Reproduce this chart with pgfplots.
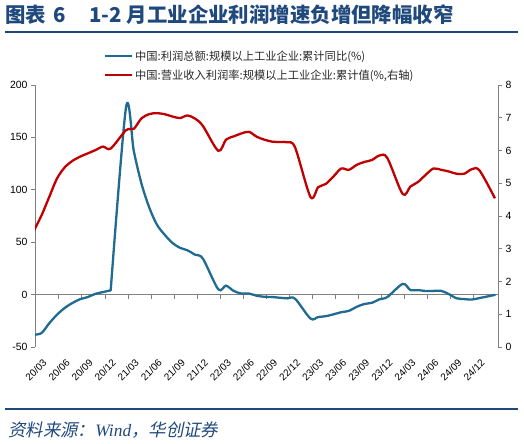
\documentclass[border=0pt]{standalone}
\usepackage{fontspec}
\usepackage{pgfplots}
\pgfplotsset{compat=1.18}
\setmainfont{Liberation Sans}
\newfontfamily\cjk{Noto Sans CJK SC}
\newfontfamily\cjksl{Noto Sans CJK SC}[FakeSlant=0.2]
\newfontfamily\seriffont{Liberation Serif}
\definecolor{ttl}{RGB}{31,73,125}
\definecolor{bl}{RGB}{31,107,145}
\definecolor{rd}{RGB}{192,0,0}
\definecolor{axc}{RGB}{128,128,128}

\pgfplotsset{
  base/.style={at={(35bp,97bp)}, anchor=south west, scale only axis,
    width=463bp, height=262bp, xmin=0.15, xmax=60.4,
    /pgf/number format/assume math mode=true,
    axis line style={axc, line width=1bp, -},
    tick style={axc, line width=0.8bp},
    major tick length=4bp, tick align=outside,
    hide obscured x ticks=false, hide obscured y ticks=false,
    ticklabel style={font=\fontsize{10.5}{12}\selectfont, text=black}},
}

\begin{document}
\begin{tikzpicture}[x=1bp,y=1bp]
\path[use as bounding box] (0,0) rectangle (524,444);
\node[anchor=west, text=ttl, font=\cjk\bfseries\fontsize{20.5}{22}\selectfont, inner sep=0pt] at (5,429) {图表\hspace{7bp}6\hspace{24bp}1-2 月工业企业利润增速负增但降幅收窄};
\draw[ttl, line width=2bp] (5,412) -- (518,412);
\draw[ttl, line width=2bp] (5,35) -- (518,35);
\node[anchor=west, text=ttl, font=\cjksl\fontsize{17.5}{19}\selectfont, inner sep=0pt] at (8,14) {资料来源：{\seriffont\itshape Wind}，华创证券};

% left axis with zero line
\begin{axis}[base, ymin=-50, ymax=200, ytick={-50,0,50,100,150,200},
  axis y line*=left, axis x line*=middle,
  xtick={0.25,3.25,...,57.25}, xticklabels={}]
\addplot[bl, line width=2.3bp, smooth, line cap=round] coordinates {
(0,-38.3) (1,-36.7) (2,-27.4) (3,-19.3) (4,-12.8) (5,-8.1) (6,-4.4) (7,-2.4) (8,0.7) (9,2.4) (10,4.1)};
\addplot[bl, line width=2.3bp, smooth, line cap=round] coordinates {
(10,4.1)
(12,178.9) (13,137.3) (14,106.0) (15,83.4) (16,66.9) (17,57.3) (18,49.5) (19,44.7) (20,42.2) (21,38.0) (22,34.3)
(24,5.0) (25,8.5) (26,3.5) (27,1.0) (28,1.0) (29,-1.1) (30,-2.1) (31,-2.3) (32,-3.0) (33,-3.6) (34,-4.0)
(36,-22.9) (37,-21.4) (38,-20.6) (39,-18.8) (40,-16.8) (41,-15.5) (42,-11.7) (43,-9.0) (44,-7.8) (45,-4.4) (46,-2.3)
(48,10.2) (49,4.3) (50,4.3) (51,3.4) (52,3.5) (53,3.6) (54,0.5) (55,-3.5) (56,-4.3) (57,-4.7) (58,-3.3)
(60,-0.3)};
\end{axis}

% right axis
\begin{axis}[base, ymin=0, ymax=8, ytick={0,1,...,8},
  axis y line*=right, axis x line=none,
  legend style={draw=none, fill=none, at={(rel axis cs:0.142,1.0)}, anchor=south west,
    cells={anchor=west}, row sep=4bp, font=\cjk\fontsize{11.3}{12}\selectfont, text=black!85},
  legend image code/.code={\draw[#1] (0bp,0bp) -- (27bp,0bp);}]
\addlegendimage{bl, line width=2.3bp}
\addlegendentry{中国:利润总额:规模以上工业企业:累计同比(\%)}
\addplot[rd, line width=2.3bp, smooth] coordinates {
(0,3.55) (1,4.02) (2,4.58) (3,5.14) (4,5.48) (5,5.68) (6,5.81) (7,5.91) (8,6.01) (9,6.12) (10,6.06)
(12,6.62) (13,6.66) (14,6.98) (15,7.11) (16,7.14) (17,7.11) (18,7.04) (19,6.99) (20,7.07) (21,6.97) (22,6.75)
(24,5.99) (25,6.33) (26,6.43) (27,6.52) (28,6.57) (29,6.42) (30,6.33) (31,6.27) (32,6.26) (33,6.25) (34,6.09)
(36,4.58) (37,4.88) (38,4.98) (39,5.21) (40,5.45) (41,5.41) (42,5.56) (43,5.65) (44,5.71) (45,5.85) (46,5.77)
(48,4.67) (49,4.90) (50,5.04) (51,5.26) (52,5.45) (53,5.41) (54,5.36) (55,5.29) (56,5.29) (57,5.43) (58,5.39)
(60,4.54)};
\addlegendentry{中国:营业收入利润率:规模以上工业企业:累计值(\%,右轴)}
\end{axis}

% x labels (axis shifted right and down so the rotated labels sit as in the reference)
\begin{axis}[base, at={(41.5bp,86bp)}, ymin=0, ymax=1, axis y line=none, axis x line*=bottom,
  x axis line style={draw=none}, major tick length=0pt,
  xtick={0.25,3.25,...,57.25},
  xticklabels={20/03,20/06,20/09,20/12,21/03,21/06,21/09,21/12,22/03,22/06,22/09,22/12,23/03,23/06,23/09,23/12,24/03,24/06,24/09,24/12},
  xticklabel style={rotate=45, anchor=north east, font=\fontsize{10}{12}\selectfont, inner sep=0pt}]
\end{axis}
\end{tikzpicture}
\end{document}
